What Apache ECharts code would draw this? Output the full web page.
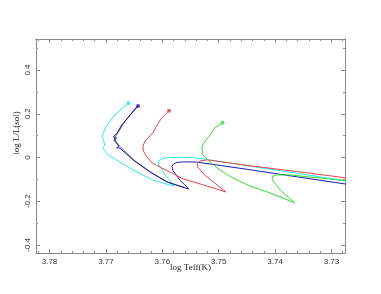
<!DOCTYPE html>
<html><head><meta charset="utf-8">
<script src="https://cdn.jsdelivr.net/npm/echarts@6/dist/echarts.min.js"></script>
<style>html,body{margin:0;padding:0;background:#fff}#c{width:381px;height:294px}</style>
</head><body><div id="c"></div>
<script>
// Tick labels
const xMajor = [3.78, 3.77, 3.76, 3.75, 3.74, 3.73];
const xMinor = [3.782,3.778,3.776,3.774,3.772,3.768,3.766,3.764,3.762,3.758,3.756,3.754,3.752,3.748,3.746,3.744,3.742,3.738,3.736,3.734,3.732,3.728];
const yMajor = [-0.4, -0.2, 0, 0.2, 0.4];
const yMinor = [-0.3, -0.1, 0.1, 0.3, 0.5];

// Tracks: [log Teff, log L/Lsun], first point = marked start
const grayTrack = [[3.7644,0.237],[3.7656,0.200],[3.7670,0.150],[3.7679,0.112],[3.7685,0.090],[3.7682,0.070],[3.7673,0.045],[3.7650,-0.013],[3.7620,-0.068],[3.7590,-0.113],[3.7560,-0.138]];
const cyanTrack = [[3.7660,0.249],[3.7675,0.217],[3.7689,0.181],[3.7700,0.139],[3.7705,0.112],[3.7707,0.095],[3.7704,0.075],[3.7702,0.057],[3.7706,0.045],[3.7703,0.034],[3.7696,0.011],[3.7687,-0.002],[3.7652,-0.057],[3.7617,-0.103],[3.7590,-0.124],[3.7579,-0.130],[3.7595,-0.080],[3.7606,-0.035],[3.7607,-0.018],[3.7602,-0.007],[3.7592,-0.001],[3.7574,0.002],[3.7539,-0.002],[3.7450,-0.037],[3.7360,-0.073],[3.7250,-0.117]];
const blueTrack = [[3.7643,0.235],[3.7657,0.194],[3.7672,0.149],[3.7680,0.112],[3.7687,0.094],[3.7681,0.088],[3.7686,0.080],[3.7684,0.071],[3.7677,0.052],[3.7681,0.045],[3.7675,0.042],[3.7652,-0.011],[3.7622,-0.066],[3.7592,-0.112],[3.7560,-0.139],[3.7553,-0.144],[3.7569,-0.103],[3.7581,-0.060],[3.7583,-0.042],[3.7580,-0.030],[3.7574,-0.023],[3.7563,-0.020],[3.7539,-0.021],[3.7450,-0.054],[3.7360,-0.089],[3.7250,-0.131]];
const redTrack = [[3.7588,0.214],[3.7601,0.181],[3.7609,0.149],[3.7617,0.112],[3.7629,0.080],[3.7634,0.057],[3.7634,0.034],[3.7629,0.007],[3.7618,-0.025],[3.7601,-0.048],[3.7583,-0.071],[3.7563,-0.098],[3.7533,-0.121],[3.7487,-0.158],[3.7525,-0.080],[3.7537,-0.045],[3.7538,-0.028],[3.7532,-0.015],[3.7520,-0.011],[3.7450,-0.036],[3.7360,-0.065],[3.7250,-0.101]];
const greenTrack = [[3.7493,0.159],[3.7507,0.135],[3.7515,0.103],[3.7524,0.075],[3.7530,0.048],[3.7528,0.011],[3.7515,-0.021],[3.7503,-0.048],[3.7475,-0.094],[3.7445,-0.130],[3.7409,-0.162],[3.7365,-0.208],[3.7391,-0.149],[3.7405,-0.102],[3.7405,-0.087],[3.7398,-0.080],[3.7374,-0.080],[3.7320,-0.094],[3.7250,-0.113]];

const tracks = [
  {data: grayTrack, color: '#666666', dot: false},
  {data: cyanTrack, color: '#2ee6f0', dot: true},
  {data: blueTrack, color: '#1c1caa', dot: true},
  {data: redTrack, color: '#e54545', dot: true},
  {data: greenTrack, color: '#33dd33', dot: true}
];

const XMIN = 3.7276, XMAX = 3.7824, YMIN = -0.437, YMAX = 0.542;
const axisCol = '#8a8a8a';
const lblStyle = {color: '#333', fontFamily: 'Liberation Sans', fontSize: 8};

function xAx(pos, ticks, len, labels) {
  return {type:'value', position: pos, min: XMIN, max: XMAX, inverse: true,
    axisLine: {show: true, onZero: false, lineStyle: {color: axisCol, width: 1}},
    axisTick: {show: true, inside: true, length: len, customValues: ticks, lineStyle: {color: axisCol}},
    axisLabel: labels ? Object.assign({show: true, customValues: xMajor, margin: 5, formatter: v => v.toFixed(2)}, lblStyle) : {show: false},
    splitLine: {show: false}};
}
function yAx(pos, ticks, len, labels) {
  return {type:'value', position: pos, min: YMIN, max: YMAX,
    axisLine: {show: true, onZero: false, lineStyle: {color: axisCol, width: 1}},
    axisTick: {show: true, inside: true, length: len, customValues: ticks, lineStyle: {color: axisCol}},
    axisLabel: labels ? Object.assign({show: true, customValues: yMajor, rotate: 90, margin: 4,
      formatter: v => (Math.abs(v) < 1e-9 ? '0' : (v < 0 ? '-' + Math.abs(v).toFixed(1) : v.toFixed(1)))}, lblStyle) : {show: false},
    splitLine: {show: false}};
}

const xAxes = [xAx('bottom', xMajor, 4, true), xAx('bottom', xMinor, 2, false), xAx('top', xMajor, 4, false), xAx('top', xMinor, 2, false)];
xAxes[0].name = 'log Teff(K)';
xAxes[0].nameLocation = 'middle';
xAxes[0].nameGap = 10;
xAxes[0].nameMoveOverlap = false;
xAxes[0].nameTextStyle = {fontFamily: 'Liberation Serif', fontSize: 9, color: '#222'};
const yAxes = [yAx('left', yMajor, 4, true), yAx('left', yMinor, 2, false), yAx('right', yMajor, 4, false), yAx('right', yMinor, 2, false)];

const series = [];
tracks.forEach(t => {
  series.push({type: 'line', data: t.data, showSymbol: false, symbol: 'none', clip: true,
    lineStyle: {color: t.color, width: 1}, animation: false, z: 2});
  if (t.dot) series.push({type: 'scatter', data: [t.data[0]], symbol: 'circle', symbolSize: 4,
    itemStyle: {color: t.color}, animation: false, z: 3});
});

const chart = echarts.init(document.getElementById('c'), null, {renderer: 'canvas'});
chart.setOption({
  animation: false,
  grid: {left: 36, right: 36, top: 39, bottom: 41, containLabel: false},
  xAxis: xAxes,
  yAxis: yAxes,
  series: series,
  graphic: [{type: 'text', x: 17, y: 133, rotation: Math.PI / 2,
    style: {text: 'log L/L(sol)', fontFamily: 'Liberation Serif', fontSize: 9, fill: '#222', align: 'center', verticalAlign: 'middle'}}]
});
</script></body></html>
